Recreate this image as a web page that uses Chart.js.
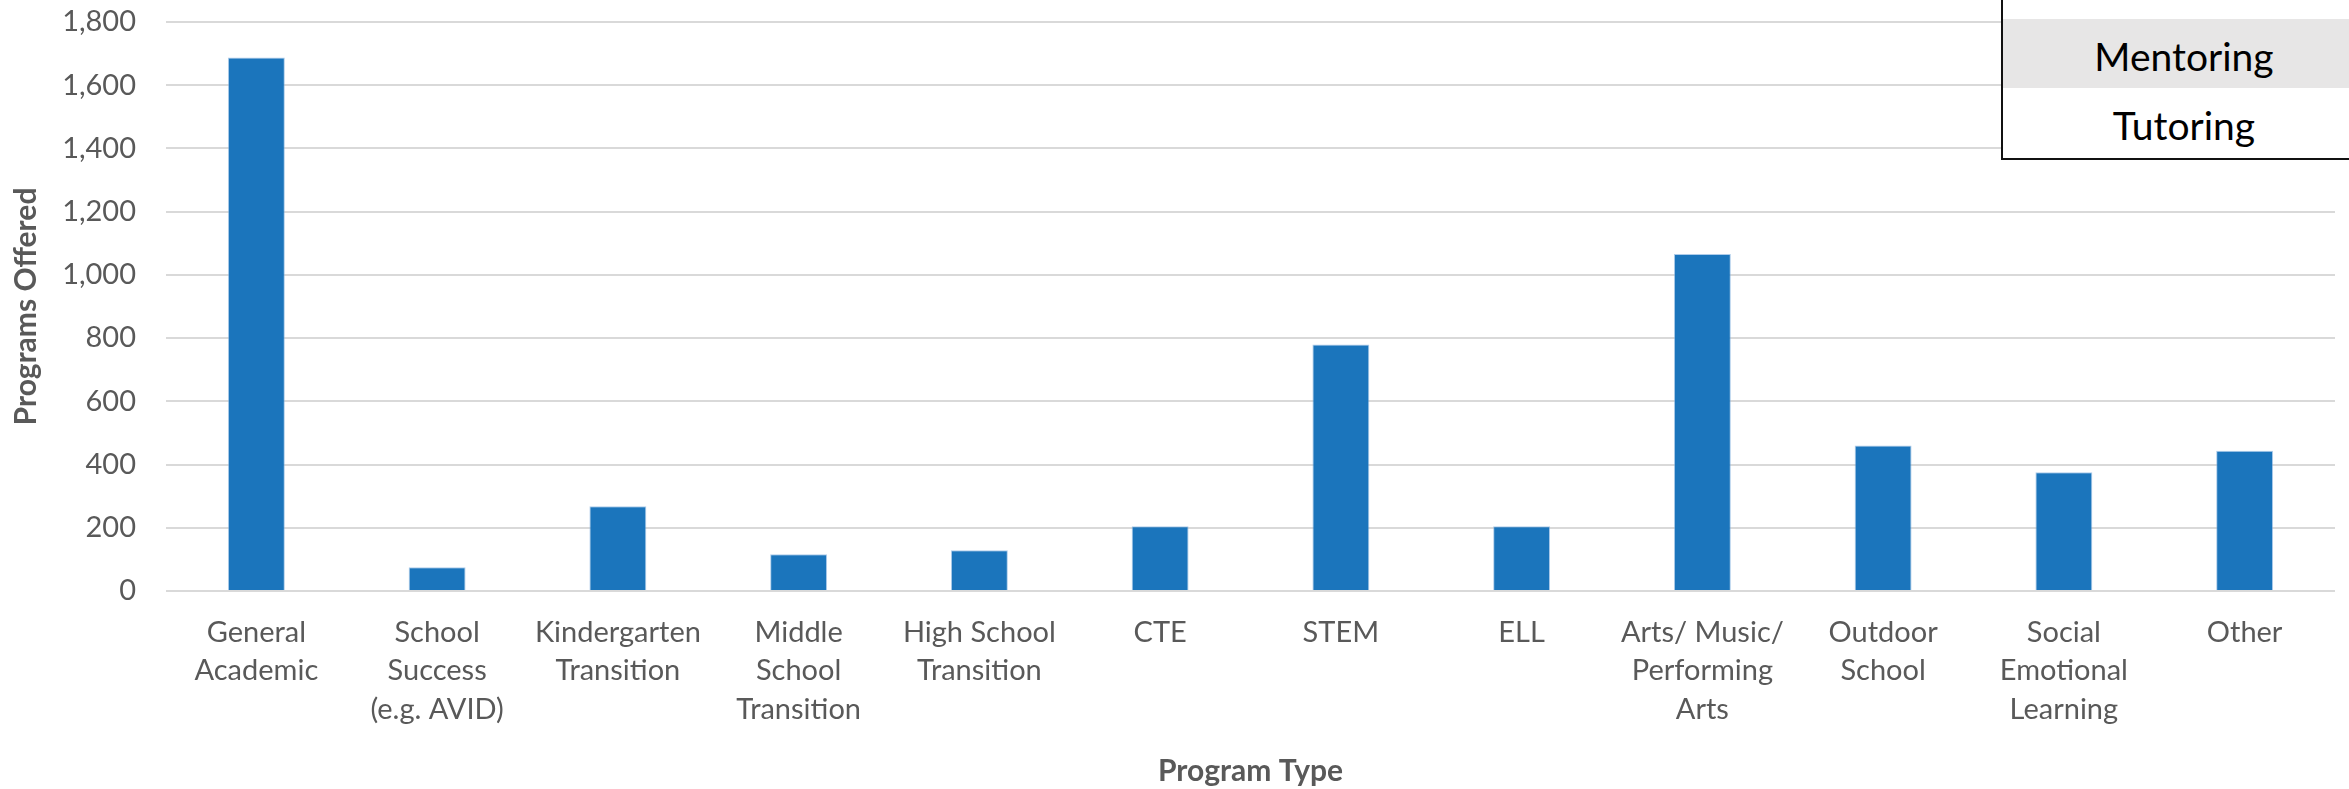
<!DOCTYPE html>
<html>
<head>
<meta charset="utf-8">
<script src="https://cdn.jsdelivr.net/npm/chart.js@4"></script>
<style>
  html, body { margin: 0; padding: 0; background: #fff; overflow: hidden; }
  #wrap { position: relative; width: 2349px; height: 789px; }
  #box {
    position: absolute; left: 2001px; top: -3px; width: 380px; height: 161px;
    border-left: 2px solid #111; border-bottom: 2px solid #111; background: #fff;
    font-family: Lato, sans-serif; font-size: 39px; color: #000;
  }
  #box div { position: absolute; left: 0; width: 362px; text-align: center; box-sizing: border-box; }
  #box .m { top: 22px; height: 69px; line-height: 69px; padding-top: 5px; line-height: 64px; background: #e7e6e6; width: 380px; padding-right: 18px; }
  #box .t { top: 91px; height: 69px; padding-top: 5px; line-height: 64px; }
</style>
</head>
<body>
<div id="wrap">
  <canvas id="chart" width="2349" height="789"></canvas>
  <div id="box"><div class="m">Mentoring</div><div class="t">Tutoring</div></div>
</div>
<script>
// --- data ---
const programTypes = [
    ["General", "Academic"],
    ["School", "Success", "(e.g. AVID)"],
    ["Kindergarten", "Transition"],
    ["Middle", "School", "Transition"],
    ["High School", "Transition"],
    "CTE",
    "STEM",
    "ELL",
    ["Arts/ Music/", "Performing", "Arts"],
    ["Outdoor", "School"],
    ["Social", "Emotional", "Learning"],
    "Other"
];
const programsOffered = [1688, 75, 268, 116, 129, 205, 780, 205, 1066, 460, 376, 444];
const yMin = 0;
const yMax = 1800;
const yStep = 200;

const axisGrey = '#595959';
const gridGrey = '#d9d9d9';
const barBlue = '#1b75bc';

const ctx = document.getElementById('chart').getContext('2d');
new Chart(ctx, {
    type: 'bar',
    data: {
        labels: programTypes,
        datasets: [{
            label: 'Programs Offered',
            data: programsOffered,
            backgroundColor: barBlue,
            borderColor: 'rgba(120,170,220,0.6)',
            borderWidth: 1,
            categoryPercentage: 1,
            barPercentage: 0.315
        }]
    },
    options: {
        responsive: false,
        animation: false,
        layout: { padding: { top: 22, right: 14, bottom: 0, left: 0 } },
        plugins: {
            legend: { display: false },
            tooltip: { enabled: false }
        },
        scales: {
            x: {
                grid: { display: false, drawTicks: false },
                border: { display: false },
                ticks: {
                    color: axisGrey,
                    font: { family: 'Lato', size: 29, lineHeight: 1.33 },
                    padding: 22,
                    maxRotation: 0,
                    autoSkip: false
                },
                title: {
                    display: true,
                    text: 'Program Type',
                    color: axisGrey,
                    font: { family: 'Lato', size: 30, weight: 'bold', lineHeight: 1.2 },
                    padding: { top: 0, bottom: 0 }
                },
                afterFit: (scale) => {
                    scale.height = 198;
                    scale.paddingLeft = 0;
                    scale.paddingRight = 0;
                }
            },
            y: {
                min: yMin,
                max: yMax,
                grid: { color: gridGrey, lineWidth: 2, drawTicks: false },
                border: { display: false },
                ticks: {
                    stepSize: yStep,
                    color: axisGrey,
                    font: { family: 'Lato', size: 29 },
                    padding: 30,
                    callback: (v) => v.toLocaleString('en-US')
                },
                title: {
                    display: true,
                    text: 'Programs Offered',
                    color: axisGrey,
                    font: { family: 'Lato', size: 30, weight: 'bold', lineHeight: 1.2 },
                    padding: { top: 8, bottom: 0 }
                },
                afterFit: (scale) => {
                    scale.width = 166;
                    scale.paddingTop = 0;
                    scale.paddingBottom = 0;
                }
            }
        }
    }
});
</script>
</body>
</html>
